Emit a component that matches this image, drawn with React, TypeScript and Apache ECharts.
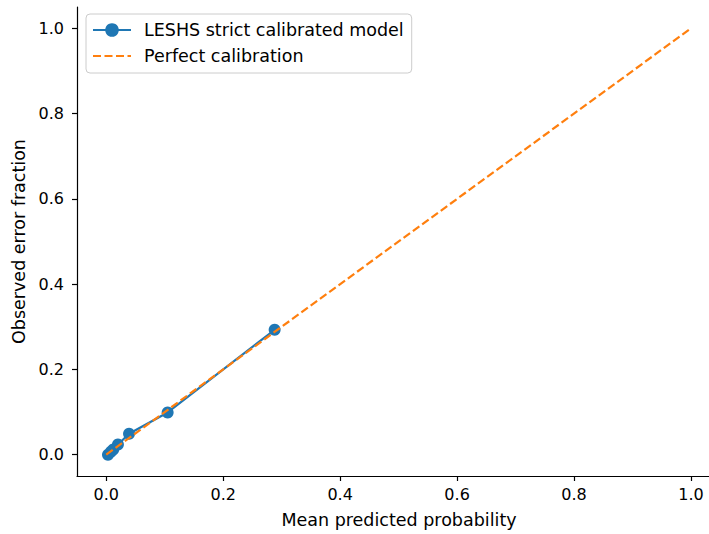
import React, { useEffect, useRef } from "react";
import * as echarts from "echarts";

const modelX = [0.003, 0.008, 0.012, 0.02, 0.039, 0.105, 0.288];
const modelY = [0.0, 0.007, 0.012, 0.024, 0.049, 0.099, 0.293];
const perfectX = [0, 1];
const perfectY = [0, 1];
const tickValues = [0, 0.2, 0.4, 0.6, 0.8, 1.0];

const seriesNames = ["LESHS strict calibrated model", "Perfect calibration"];
const FONT = "DejaVu Sans";

export default function App() {
  const ref = useRef<HTMLDivElement>(null);
  useEffect(() => {
    if (!ref.current) return;
    const chart = echarts.init(ref.current, null, { renderer: "svg" });
    const axisCommon = {
      type: "value" as const,
      min: -0.05,
      splitLine: { show: false },
      axisLine: { show: true, onZero: false, lineStyle: { color: "#000", width: 1.2 } },
      axisTick: { show: true, length: 5, customValues: tickValues, lineStyle: { color: "#000", width: 1.2 } },
      axisLabel: {
        customValues: tickValues,
        color: "#000",
        fontFamily: FONT,
        fontSize: 16,
        formatter: (v: number) => v.toFixed(1),
      },
      nameLocation: "middle" as const,
      nameTextStyle: { color: "#000", fontFamily: FONT, fontSize: 17.5 },
    };
    chart.setOption({
      animation: false,
      backgroundColor: "#fff",
      grid: { left: 77, top: 7, right: 0, height: 471, containLabel: false },
      legend: {
        orient: "vertical",
        left: 86,
        top: 14,
        padding: [7, 8, 8, 6],
        itemWidth: 38,
        itemHeight: 17,
        itemGap: 8,
        borderColor: "#cccccc",
        borderWidth: 1,
        borderRadius: 4,
        backgroundColor: "rgba(255,255,255,0.8)",
        textStyle: { color: "#000", fontFamily: FONT, fontSize: 17.5, padding: [0, 0, 0, 8] },
        data: [
          { name: seriesNames[0] },
          { name: seriesNames[1], itemStyle: { opacity: 0 } },
        ],
      },
      xAxis: {
        ...axisCommon,
        max: 1.0308,
        name: "Mean predicted probability",
        nameGap: 35,
        nameTextStyle: { ...axisCommon.nameTextStyle, padding: [0, 0, 0, 12] },
        axisLabel: { ...axisCommon.axisLabel, margin: 10 },
      },
      yAxis: {
        ...axisCommon,
        max: 1.05,
        name: "Observed error fraction",
        nameGap: 47,
        axisLabel: { ...axisCommon.axisLabel, margin: 13 },
      },
      series: [
        {
          name: seriesNames[0],
          type: "line",
          data: modelX.map((x, i) => [x, modelY[i]]),
          symbol: "circle",
          symbolSize: 12,
          showSymbol: true,
          itemStyle: { color: "#1f77b4" },
          lineStyle: { color: "#1f77b4", width: 2.2 },
          z: 2,
        },
        {
          name: seriesNames[1],
          type: "line",
          data: perfectX.map((x, i) => [x, perfectY[i]]),
          symbol: "none",
          itemStyle: { color: "#ff7f0e" },
          lineStyle: { color: "#ff7f0e", width: 2.2, type: [8, 3.5] },
          z: 3,
        },
      ],
    });
    return () => chart.dispose();
  }, []);
  return (
    <div
      ref={ref}
      style={{ position: "fixed", left: 0, top: 0, width: 709, height: 534 }}
    />
  );
}
